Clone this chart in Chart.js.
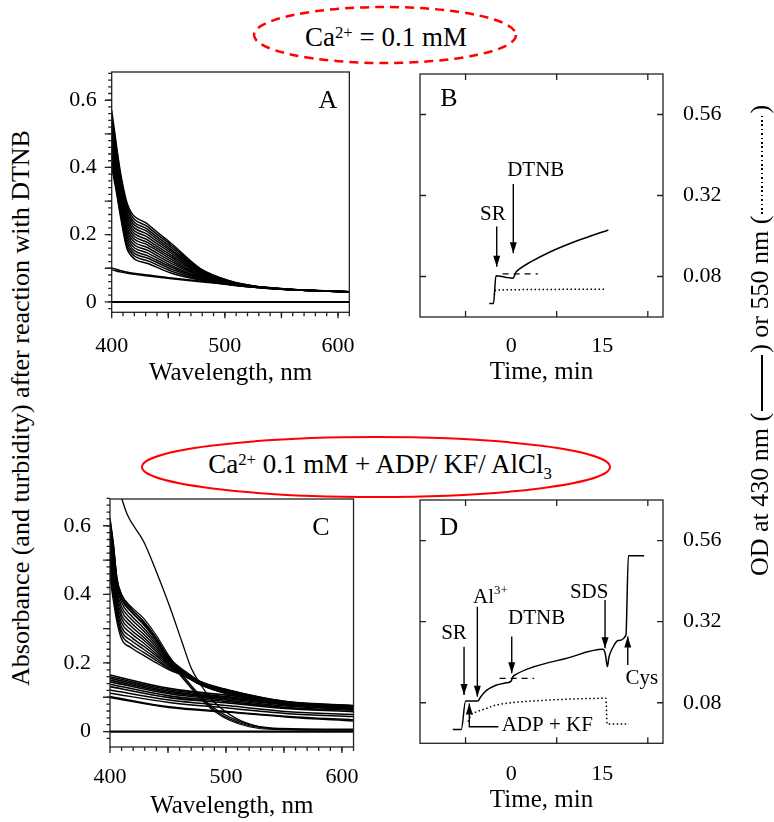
<!DOCTYPE html>
<html>
<head>
<meta charset="utf-8">
<script src="https://cdn.jsdelivr.net/npm/chart.js@4.4.1/dist/chart.umd.min.js"></script>
<style>
  html, body { margin: 0; padding: 0; background: #fff; }
  #fig { position: relative; width: 774px; height: 822px; overflow: hidden;
         font-family: "Liberation Serif", "Times New Roman", serif; color: #000; }
  #fig canvas { position: absolute; }
  #fig svg { position: absolute; left: 0; top: 0; }
  .txt { position: absolute; transform: translate(-50%, -50%); white-space: nowrap; line-height: 1; }
  .head { font-size: 27px; }
  .letter { font-size: 26px; }
  .vtitle { font-size: 26px; transform: translate(-50%, -50%) rotate(-90deg); }
  .vstart { position: absolute; white-space: nowrap; line-height: 1; font-size: 26px;
            transform-origin: 0 50%; transform: translate(0, -50%) rotate(-90deg); }
  .key { display: inline-block; height: 1.6px; vertical-align: middle; margin: 0 2px; }
  .key.solid { width: 56px; background: #000; }
  .key.dots { width: 98px; background: repeating-linear-gradient(90deg, #000 0 1.6px, transparent 1.6px 4.4px); }
  sup { font-size: 0.62em; position: relative; top: -0.45em; vertical-align: baseline; line-height: 0; }
  sub { font-size: 0.62em; position: relative; top: 0.35em; vertical-align: baseline; line-height: 0; }
</style>
</head>
<body>
<div id="fig">
  <svg width="774" height="822">
    <ellipse cx="385" cy="35" rx="131" ry="28" fill="none" stroke="#f00" stroke-width="2.5" stroke-dasharray="9 6"/>
    <ellipse cx="376" cy="467" rx="234" ry="30" fill="none" stroke="#f00" stroke-width="2"/>
  </svg>
  <div class="txt head" style="left:386px;top:37px">Ca<sup>2+</sup> = 0.1 mM</div>
  <div class="txt head" style="left:380px;top:464px">Ca<sup>2+</sup> 0.1 mM + ADP/ KF/ AlCl<sub>3</sub></div>

  <canvas id="cA" width="336" height="348" style="left:40px;top:42px"></canvas>
  <canvas id="cB" width="374" height="353" style="left:400px;top:39px"></canvas>
  <canvas id="cC" width="336" height="356" style="left:40px;top:465px"></canvas>
  <canvas id="cD" width="374" height="355" style="left:400px;top:465px"></canvas>

  <div class="txt letter" style="left:328px;top:100px">A</div>
  <div class="txt letter" style="left:449px;top:98px">B</div>
  <div class="txt letter" style="left:321px;top:527px">C</div>
  <div class="txt letter" style="left:449px;top:527px">D</div>

  <div class="txt vtitle" style="left:21px;top:408px">Absorbance (and turbidity) after reaction with DTNB</div>
  <div class="vstart" style="left:760px;top:576px">OD at 430 nm (<span class="key solid"></span>) or 550 nm (<span class="key dots"></span>)</div>
</div>

<script>
// ---------- panel A: spectra, Ca2+ only ----------
const wlA = [400, 404, 408, 414, 432, 453, 478, 505, 528, 558, 610];
const fanA = [
  [0.400, 0.330, 0.250, 0.154, 0.114, 0.085, 0.065, 0.050, 0.043, 0.036, 0.030],
  [0.411, 0.339, 0.259, 0.163, 0.122, 0.091, 0.067, 0.051, 0.043, 0.036, 0.030],
  [0.423, 0.349, 0.267, 0.172, 0.130, 0.097, 0.070, 0.052, 0.043, 0.036, 0.030],
  [0.434, 0.358, 0.276, 0.181, 0.137, 0.103, 0.072, 0.052, 0.044, 0.036, 0.030],
  [0.445, 0.367, 0.285, 0.190, 0.145, 0.108, 0.074, 0.053, 0.044, 0.036, 0.030],
  [0.457, 0.377, 0.293, 0.199, 0.153, 0.114, 0.077, 0.054, 0.044, 0.036, 0.030],
  [0.468, 0.386, 0.302, 0.208, 0.161, 0.120, 0.079, 0.055, 0.044, 0.036, 0.030],
  [0.479, 0.395, 0.311, 0.217, 0.169, 0.126, 0.081, 0.056, 0.044, 0.037, 0.030],
  [0.491, 0.405, 0.319, 0.227, 0.176, 0.132, 0.084, 0.056, 0.045, 0.037, 0.030],
  [0.502, 0.414, 0.328, 0.236, 0.184, 0.138, 0.086, 0.057, 0.045, 0.037, 0.030],
  [0.513, 0.423, 0.337, 0.245, 0.192, 0.144, 0.088, 0.058, 0.045, 0.037, 0.030],
  [0.525, 0.433, 0.345, 0.254, 0.200, 0.150, 0.091, 0.059, 0.045, 0.037, 0.030],
  [0.536, 0.442, 0.354, 0.263, 0.208, 0.155, 0.093, 0.060, 0.045, 0.037, 0.030],
  [0.547, 0.451, 0.363, 0.272, 0.215, 0.161, 0.095, 0.060, 0.046, 0.037, 0.030],
  [0.559, 0.461, 0.371, 0.281, 0.223, 0.167, 0.098, 0.061, 0.046, 0.037, 0.030],
  [0.570, 0.470, 0.380, 0.290, 0.231, 0.173, 0.100, 0.062, 0.046, 0.037, 0.030]
];
const lineA1 = [0.101, 0.097, 0.093, 0.088, 0.080, 0.071, 0.062, 0.054, 0.046, 0.038, 0.030];
const lineA2 = [0.096, 0.092, 0.089, 0.085, 0.077, 0.069, 0.060, 0.052, 0.045, 0.038, 0.030];

// ---------- panel C: spectra, Ca2+ + ADP/KF/AlCl3 ----------
const wlFanC = [400, 403, 406, 410, 418, 429, 440, 451, 465, 478, 503, 554, 610];
const fanC = [
  [0.450, 0.380, 0.320, 0.270, 0.245, 0.222, 0.200, 0.180, 0.160, 0.136, 0.108, 0.078, 0.066],
  [0.466, 0.395, 0.332, 0.282, 0.255, 0.231, 0.207, 0.183, 0.161, 0.137, 0.109, 0.079, 0.067],
  [0.481, 0.410, 0.343, 0.293, 0.266, 0.240, 0.213, 0.186, 0.163, 0.138, 0.110, 0.080, 0.068],
  [0.497, 0.425, 0.355, 0.305, 0.276, 0.249, 0.220, 0.190, 0.164, 0.139, 0.112, 0.080, 0.068],
  [0.513, 0.440, 0.366, 0.317, 0.287, 0.258, 0.226, 0.193, 0.166, 0.140, 0.113, 0.081, 0.069],
  [0.528, 0.455, 0.378, 0.329, 0.297, 0.267, 0.233, 0.196, 0.167, 0.141, 0.114, 0.082, 0.070],
  [0.544, 0.470, 0.389, 0.340, 0.308, 0.275, 0.239, 0.199, 0.168, 0.141, 0.115, 0.083, 0.071],
  [0.559, 0.485, 0.401, 0.352, 0.318, 0.284, 0.246, 0.202, 0.170, 0.142, 0.116, 0.084, 0.072],
  [0.575, 0.500, 0.412, 0.364, 0.329, 0.293, 0.252, 0.205, 0.171, 0.143, 0.118, 0.084, 0.072],
  [0.591, 0.515, 0.424, 0.376, 0.339, 0.302, 0.259, 0.209, 0.173, 0.144, 0.119, 0.085, 0.073],
  [0.606, 0.530, 0.435, 0.387, 0.350, 0.311, 0.265, 0.212, 0.174, 0.145, 0.120, 0.086, 0.074],
  [0.622, 0.545, 0.447, 0.399, 0.360, 0.320, 0.272, 0.215, 0.175, 0.146, 0.121, 0.087, 0.075]
];
const wlDropC = [400, 403, 406, 410, 418, 429, 440, 451, 465, 478, 490, 503, 520, 541, 610];
const dropC = [
  [0.620, 0.545, 0.447, 0.400, 0.365, 0.330, 0.280, 0.220, 0.155, 0.105, 0.068, 0.042, 0.020, 0.010, 0.007],
  [0.612, 0.537, 0.441, 0.392, 0.356, 0.322, 0.272, 0.212, 0.150, 0.100, 0.063, 0.037, 0.017, 0.008, 0.005],
  [0.604, 0.529, 0.435, 0.386, 0.350, 0.315, 0.266, 0.206, 0.146, 0.096, 0.059, 0.033, 0.014, 0.006, 0.004]
];
const wlBandC = [400, 451, 503, 554, 610];
const bandC = [
  [0.165, 0.126, 0.105, 0.086, 0.076],
  [0.160, 0.122, 0.101, 0.083, 0.073],
  [0.155, 0.118, 0.098, 0.080, 0.070],
  [0.150, 0.114, 0.095, 0.077, 0.068],
  [0.145, 0.110, 0.091, 0.074, 0.065],
  [0.138, 0.104, 0.087, 0.070, 0.062],
  [0.131, 0.099, 0.083, 0.067, 0.058]
];
const lowC = [
  [0.121, 0.092, 0.075, 0.058, 0.050],
  [0.112, 0.085, 0.068, 0.052, 0.044],
  [0.102, 0.072, 0.058, 0.044, 0.034],
  [0.099, 0.070, 0.056, 0.042, 0.031]
];
const wlSteepC = [400, 410, 415, 429, 440, 451, 462, 470, 478, 486, 494, 503, 513, 524, 535, 560, 610];
const steepC = [0.78, 0.68, 0.632, 0.554, 0.466, 0.369, 0.262, 0.185, 0.138, 0.100, 0.073, 0.050, 0.031, 0.018, 0.010, 0.006, 0.005];

const wlZero = [400, 610];
const zeroAbs = [0, 0];

// ---------- panel B: time course, Ca2+ only ----------
const bSolidT  = [-3.6, -2.9, -2.5, -1.0, 0.3, 0.8, 1.5, 3.0, 6.3, 11.2, 16.0];
const bSolidOD = [0.0, 0.0, 0.082, 0.078, 0.075, 0.093, 0.104, 0.121, 0.152, 0.188, 0.218];
const bDashT   = [-1.4, 4.4];
const bDashOD  = [0.088, 0.088];
const bDotT    = [-2.8, -2.5, 15.5];
const bDotOD   = [0.025, 0.040, 0.042];

// ---------- panel D: time course, Ca2+ + ADP/KF/AlCl3 ----------
const dSolidT  = [-9.6, -8.2, -7.5, -5.5, -5.0, -4.1, -2.5, -0.8, 0.0, 0.3, 0.8, 3.5, 9.0, 15.1, 15.5, 15.85, 16.1, 16.7, 17.6, 18.9, 19.3, 21.9];
const dSolidOD = [0.001, 0.001, 0.085, 0.085, 0.098, 0.116, 0.132, 0.139, 0.144, 0.157, 0.164, 0.185, 0.211, 0.238, 0.225, 0.187, 0.215, 0.242, 0.264, 0.280, 0.515, 0.515];
const dDashT   = [-1.9, 3.8];
const dDashOD  = [0.152, 0.152];
const dDotT    = [-7.1, -6.6, -5.7, -4.1, -2.5, 0.0, 6.3, 15.0, 15.6, 15.8, 19.4];
const dDotOD   = [0.024, 0.044, 0.053, 0.063, 0.073, 0.080, 0.088, 0.093, 0.093, 0.017, 0.017];

// arrows (tail -> tip) and their labels, in data units
const arrowsB = [[[-2.37, 0.228], [-2.37, 0.109]], [[0.36, 0.354], [0.36, 0.149]]];
const labelsB = [{ text: 'SR', x: -3.0, y: 0.265 }, { text: 'DTNB', x: 4.05, y: 0.393 }];
const arrowsD = [
  [[-7.75, 0.246], [-7.75, 0.103]],
  [[-5.56, 0.364], [-5.56, 0.098]],
  [[0.1, 0.276], [0.1, 0.167]],
  [[15.46, 0.384], [15.46, 0.241]],
  [[19.2, 0.192], [19.2, 0.276]],
  [[-2.1, 0.009], [-6.88, 0.009], [-6.88, 0.078]]
];
const labelsD = [
  { text: 'SR', x: -9.4, y: 0.284 },
  { text: 'Al', sup: '3+', x: -3.4, y: 0.392 },
  { text: 'DTNB', x: 4.2, y: 0.33 },
  { text: 'SDS', x: 12.85, y: 0.407 },
  { text: 'Cys', x: 21.5, y: 0.152 },
  { text: 'ADP + KF', x: -1.55, y: 0.012, align: 'left' }
];

// tick labels
const xLabelsSpec = [400, 500, 600];
const yLabelsSpec = [0, 0.2, 0.4, 0.6];
const xLabelsTime = [0, 15];
const yLabelsOD = [0.08, 0.32, 0.56];
const xMarksTime = [-7.5, 7.5, 22.5];

function range(a, b, step) {
  const out = [];
  const n = Math.round((b - a) / step);
  for (let i = 0; i <= n; i++) out.push(+(a + i * step).toFixed(4));
  return out;
}

const framePlugin = {
  id: 'frame',
  afterDatasetsDraw(chart, args, opts) {
    const { ctx, chartArea: a, scales: { x, y } } = chart;
    ctx.save();
    ctx.strokeStyle = '#222';
    ctx.lineWidth = 1.3;
    ctx.strokeRect(a.left, a.top, a.right - a.left, a.bottom - a.top);
    (opts.marks || []).forEach(m => {
      const d = m.out ? 1 : -1;
      ctx.beginPath();
      m.values.forEach(v => {
        if (m.side === 'bottom' || m.side === 'top') {
          const px = x.getPixelForValue(v);
          const y0 = m.side === 'bottom' ? a.bottom : a.top;
          const s = m.side === 'bottom' ? d : -d;
          ctx.moveTo(px, y0); ctx.lineTo(px, y0 + s * m.len);
        } else {
          const py = y.getPixelForValue(v);
          const x0 = m.side === 'left' ? a.left : a.right;
          const s = m.side === 'left' ? -d : d;
          ctx.moveTo(x0, py); ctx.lineTo(x0 + s * m.len, py);
        }
      });
      ctx.stroke();
    });
    ctx.restore();
  }
};

const notesPlugin = {
  id: 'notes',
  afterDatasetsDraw(chart, args, opts) {
    const { ctx, scales: { x, y } } = chart;
    ctx.save();
    ctx.strokeStyle = '#000';
    ctx.fillStyle = '#000';
    ctx.lineWidth = 1.4;
    (opts.arrows || []).forEach(path => {
      const p = path.map(([vx, vy]) => [x.getPixelForValue(vx), y.getPixelForValue(vy)]);
      ctx.beginPath();
      p.forEach(([px, py], i) => i ? ctx.lineTo(px, py) : ctx.moveTo(px, py));
      ctx.stroke();
      const [x1, y1] = p[p.length - 1], [x0, y0] = p[p.length - 2];
      const ang = Math.atan2(y1 - y0, x1 - x0), L = 11, W = 3.5;
      const bx = x1 - L * Math.cos(ang), by = y1 - L * Math.sin(ang);
      ctx.beginPath();
      ctx.moveTo(x1, y1);
      ctx.lineTo(bx + W * Math.sin(ang), by - W * Math.cos(ang));
      ctx.lineTo(bx - W * Math.sin(ang), by + W * Math.cos(ang));
      ctx.closePath();
      ctx.fill();
    });
    ctx.textBaseline = 'middle';
    (opts.labels || []).forEach(l => {
      ctx.font = '21px "Liberation Serif"';
      const w = ctx.measureText(l.text).width;
      ctx.font = '13px "Liberation Serif"';
      const ws = l.sup ? ctx.measureText(l.sup).width : 0;
      const px = x.getPixelForValue(l.x), py = y.getPixelForValue(l.y);
      const x0 = l.align === 'left' ? px : px - (w + ws) / 2;
      ctx.textAlign = 'left';
      ctx.font = '21px "Liberation Serif"';
      ctx.fillText(l.text, x0, py);
      if (l.sup) {
        ctx.font = '13px "Liberation Serif"';
        ctx.fillText(l.sup, x0 + w, py - 7);
      }
    });
    ctx.restore();
  }
};

const tickFont = { family: 'Liberation Serif', size: 22 };
const titleFont = { family: 'Liberation Serif', size: 25 };

function line(xs, ys, w, dash) {
  return {
    data: xs.map((v, i) => ({ x: v, y: ys[i] })),
    borderColor: '#000', borderWidth: w, borderDash: dash || [],
    pointRadius: 0, fill: false, cubicInterpolationMode: 'monotone'
  };
}

function makeChart(id, datasets, cfg) {
  return new Chart(document.getElementById(id), {
    type: 'line',
    data: { datasets },
    plugins: [framePlugin, notesPlugin],
    options: {
      responsive: false, animation: false, events: [],
      layout: { padding: cfg.pad },
      plugins: {
        legend: { display: false }, tooltip: { enabled: false },
        frame: { marks: cfg.marks }, notes: cfg.notes || {}
      },
      scales: {
        x: {
          type: 'linear', min: cfg.xMin, max: cfg.xMax,
          afterBuildTicks: s => { s.ticks = cfg.xLabels.map(v => ({ value: v })); },
          afterFit: s => { s.height = cfg.xH; },
          grid: { display: false, drawTicks: false }, border: { display: false },
          ticks: { font: tickFont, color: '#000', padding: cfg.xPad, maxRotation: 0, autoSkip: false },
          title: { display: true, text: cfg.xTitle, font: titleFont, color: '#000', padding: { top: 0, bottom: cfg.titlePad } }
        },
        y: {
          type: 'linear', position: cfg.yPos, min: cfg.yMin, max: cfg.yMax,
          afterBuildTicks: s => { s.ticks = cfg.yLabels.map(v => ({ value: v })); },
          afterFit: s => { s.width = cfg.yW; },
          grid: { display: false, drawTicks: false }, border: { display: false },
          ticks: { font: tickFont, color: '#000', padding: cfg.yPad, autoSkip: false, callback: v => String(v) }
        }
      }
    }
  });
}

const specMarks = [
  { side: 'left', values: range(0, 0.6, 0.1), len: 7, out: true },
  { side: 'left', values: range(-0.02, 0.68, 0.02), len: 3.5, out: true },
  { side: 'bottom', values: range(400, 600, 50), len: 6, out: true },
  { side: 'bottom', values: range(410, 610, 10), len: 4, out: true }
];
const timeMarks = [
  { side: 'top', values: xMarksTime, len: 6, out: false },
  { side: 'bottom', values: xMarksTime, len: 6, out: false },
  { side: 'left', values: yLabelsOD, len: 6, out: false },
  { side: 'right', values: yLabelsOD, len: 6, out: false }
];

// A
makeChart('cA', [
  ...fanA.map(ys => line(wlA, ys, 1.5)),
  line(wlA, lineA1, 1.4), line(wlA, lineA2, 1.4),
  line(wlZero, zeroAbs, 2)
], {
  pad: { top: 30, right: 10, left: 0, bottom: 0 },
  xMin: 400, xMax: 610, yMin: -0.031, yMax: 0.684,
  xLabels: xLabelsSpec, yLabels: yLabelsSpec, xH: 77.7, yW: 71.7,
  xPad: 21, yPad: 15, titlePad: 2, yPos: 'left', xTitle: 'Wavelength, nm',
  marks: specMarks
});

// C
makeChart('cC', [
  line(wlSteepC, steepC, 1.3),
  ...dropC.map(ys => line(wlDropC, ys, 1.2)),
  ...fanC.map(ys => line(wlFanC, ys, 1.4)),
  ...bandC.map(ys => line(wlBandC, ys, 1.6)),
  ...lowC.map(ys => line(wlBandC, ys, 1.5)),
  line(wlZero, zeroAbs, 2.2)
], {
  pad: { top: 34, right: 12, left: 0, bottom: 0 },
  xMin: 400, xMax: 610, yMin: -0.045, yMax: 0.678,
  xLabels: xLabelsSpec, yLabels: yLabelsSpec, xH: 74, yW: 70,
  xPad: 17, yPad: 19, titlePad: 0, yPos: 'left', xTitle: 'Wavelength, nm',
  marks: specMarks
});

// B
makeChart('cB', [
  line(bSolidT, bSolidOD, 1.5),
  line(bDashT, bDashOD, 1.3, [6, 5]),
  line(bDotT, bDotOD, 1.5, [1.5, 2.5])
], {
  pad: { top: 35, right: 0, left: 20, bottom: 0 },
  xMin: -15, xMax: 25, yMin: -0.04, yMax: 0.68,
  xLabels: xLabelsTime, yLabels: yLabelsOD, xH: 75, yW: 111,
  xPad: 16, yPad: 20, titlePad: 5, yPos: 'right', xTitle: 'Time, min',
  marks: timeMarks, notes: { arrows: arrowsB, labels: labelsB }
});

// D
makeChart('cD', [
  line(dSolidT, dSolidOD, 1.5),
  line(dDashT, dDashOD, 1.3, [6, 5]),
  line(dDotT, dDotOD, 1.5, [1.5, 2.5])
], {
  pad: { top: 35, right: 0, left: 20, bottom: 0 },
  xMin: -15, xMax: 25, yMin: -0.04, yMax: 0.68,
  xLabels: xLabelsTime, yLabels: yLabelsOD, xH: 76.7, yW: 111,
  xPad: 18, yPad: 20, titlePad: 5, yPos: 'right', xTitle: 'Time, min',
  marks: timeMarks, notes: { arrows: arrowsD, labels: labelsD }
});
</script>
</body>
</html>
